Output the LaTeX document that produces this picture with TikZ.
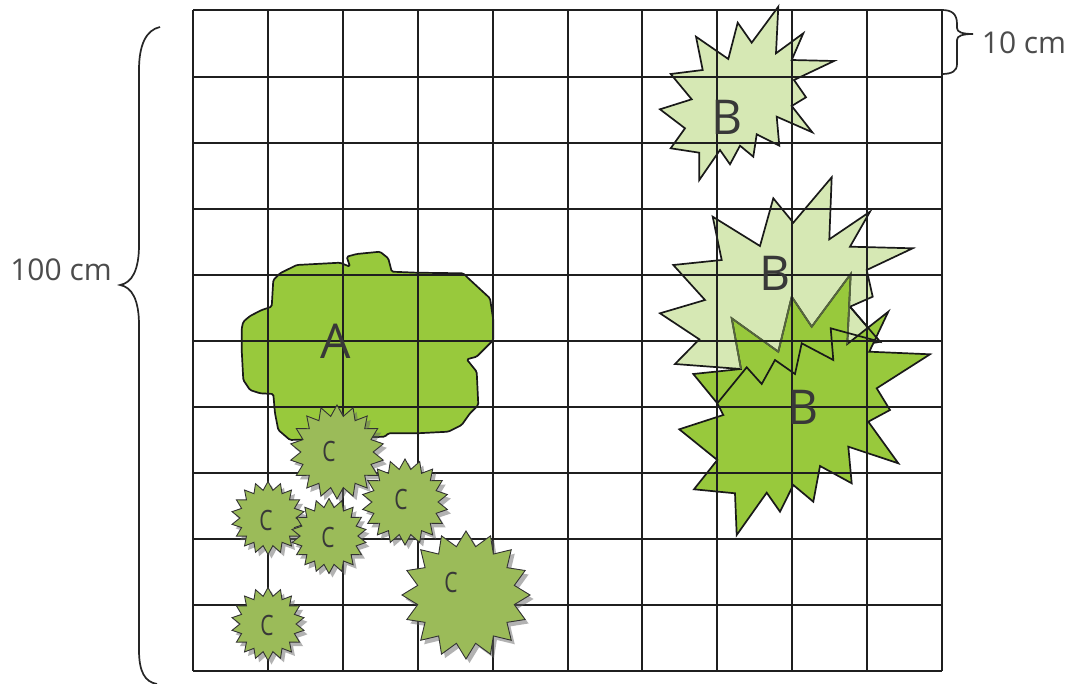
\documentclass[tikz,border=0pt]{standalone}
\usepackage{fontspec}
\setmainfont{Open Sans}
\usetikzlibrary{shapes.geometric,shadows}
\definecolor{agreen}{HTML}{98C93C}
\definecolor{lgreen}{HTML}{D6E8B4}
\definecolor{cgreen}{HTML}{9BBB59}
\definecolor{txtgray}{HTML}{383838}
\definecolor{spikegray}{HTML}{56663E}
\tikzset{
  gridline/.style={line width=2pt, draw=black!88},
  plantA/.style={fill=agreen, draw=black!90, line width=1.7pt, line join=round, rounded corners=1.5pt},
  plantB/.style={draw=black!90, line width=1.7pt, line join=miter},
  cstar/.style={star, star point ratio=1.3, inner sep=0pt, fill=cgreen, draw=black!80, line width=0.9pt,
    drop shadow={shadow xshift=3.5pt, shadow yshift=-4pt, opacity=0.5, fill=black!60}},
  bigletter/.style={text=txtgray, font=\fontsize{48}{56}\selectfont, inner sep=0pt},
  cletter/.style={text=txtgray, font=\fontsize{28}{32}\selectfont, inner sep=0pt, xscale=0.75},
  measure/.style={text=txtgray!90, font=\fontsize{30}{36}\selectfont, inner sep=0pt},
  bracepath/.style={line width=1.7pt, draw=black!85}
}
\begin{document}
\begin{tikzpicture}[x=1pt,y=-1pt]
\useasboundingbox (0,0) rectangle (1072,684);
\fill[white] (0,0) rectangle (1072,684);

% plant A
\draw[plantA] (241.7,328.3) -- (243.3,321.7) -- (250,316) -- (261.7,310) -- (271.7,306.7) -- (273.3,280) -- (280,273.3) -- (296.7,265) -- (340,262.7) -- (350,266.7) -- (346.7,256.7) -- (356.7,254) -- (380,251.7) -- (388.3,258.3) -- (391.7,271.7) -- (416.7,272.7) -- (463.3,273.3) -- (468.3,278.3) -- (490,298.3) -- (493.3,320) -- (493.3,340) -- (483.3,350) -- (476.7,356.7) -- (466.7,359.3) -- (476.7,371.7) -- (478.3,405) -- (470,413.3) -- (461.7,425) -- (448.3,431.7) -- (416.7,433.3) -- (388.3,433.3) -- (385,436.7) -- (290,440) -- (278.3,430) -- (275,413.3) -- (273.3,394) -- (260,393.3) -- (250,390) -- (243.3,380) -- (241.7,350) -- cycle;

% top plant B
\draw[plantB, fill=lgreen] (778.3,6.7) -- (776,53.3) -- (803.3,33.3) -- (791.7,60) -- (834,61) -- (794,80) -- (806,97.3) -- (791.7,106) -- (812.3,132.3) -- (776.7,116.7) -- (779.3,145.7) -- (756.7,134.3) -- (753.3,156.7) -- (740,145.7) -- (730,164.3) -- (720,150) -- (699.3,180) -- (699.3,152.7) -- (670.7,148.3) -- (685,128.3) -- (660,109.3) -- (691.7,99.3) -- (670.7,74) -- (702.7,70) -- (696,36.7) -- (728.3,59) -- (737.7,22.7) -- (751.7,42.7) -- cycle;

% middle plant B (light)
\draw[plantB, fill=lgreen] (773.3,198.3) -- (793.3,222.7) -- (831.7,177.3) -- (829.3,239.3) -- (870,211.7) -- (850,246.7) -- (912.7,248.3) -- (866.7,270) -- (872.7,296.7) -- (850,306.7) -- (880,341.7) -- (741,369) -- (675,364) -- (699.3,339.3) -- (660,313.3) -- (705,300) -- (673.3,265) -- (721.7,260) -- (712.7,216.7) -- (760,246) -- cycle;

% lower plant B (dark)
\draw[plantB, fill=agreen] (693.3,374) -- (741,369) -- (731.7,318.3) -- (778.3,351.7) -- (791.7,296.7) -- (811.7,326.7) -- (850.7,274) -- (847.3,344) -- (888.3,311.7) -- (869.3,351.7) -- (930,354.3) -- (876.7,388.3) -- (890,410) -- (868.3,421.7) -- (898.3,463.3) -- (848.3,446.7) -- (851.7,483.3) -- (820,466) -- (813.3,501.7) -- (793.3,485) -- (780,511.7) -- (766.7,492.7) -- (736.7,535) -- (735,493.3) -- (694,489.3) -- (717.3,460) -- (679.3,429.3) -- (723.3,415) -- (717.3,403.3) -- cycle;
\draw[line width=1.7pt, draw=spikegray, line join=miter] (741,369) -- (731.7,318.3) -- (778.3,351.7) -- (791.7,296.7) -- (811.7,326.7) -- (850.7,274) -- (847.3,344);
\draw[plantB] (717.3,403.3) -- (746.7,367.3) -- (761.7,384) -- (775,360) -- (795,374) -- (801.7,343.3) -- (833.3,360) -- (830.7,328.3) -- (880,341.7) -- (850,306.7);

% grid
\foreach \i in {0,...,10} {
  \draw[gridline] (193+74.9*\i,10.5) -- (193+74.9*\i,671);
  \draw[gridline] (193,10.5+66.05*\i) -- (942,10.5+66.05*\i);
}

% plants C
\node[cstar, star points=18, minimum size=94pt] (c1) at (337,452) {};
\node[cstar, star points=18, minimum size=86pt] (c4) at (405,502) {};
\node[cstar, star points=18, minimum size=73pt] (c2) at (268,518) {};
\node[cstar, star points=18, minimum size=75pt] (c3) at (329,536) {};
\node[cstar, star points=16, minimum size=128pt] (c5) at (466,595) {};
\node[cstar, star points=18, minimum size=73pt] (c6) at (268,624) {};

% labels
\node[bigletter] (la) at (336,341) {A};
\node[bigletter] (lb1) at (727,117) {B};
\node[bigletter] (lb2) at (775,273) {B};
\node[bigletter] (lb3) at (803,407) {B};
\node[cletter] (lc1) at (329,451) {C};
\node[cletter] (lc2) at (266,520) {C};
\node[cletter] (lc3) at (328,537) {C};
\node[cletter] (lc4) at (401,500) {C};
\node[cletter] (lc5) at (451,582) {C};
\node[cletter] (lc6) at (267,625) {C};

% braces
\draw[bracepath] (160,27) .. controls (146,30) and (139,45) .. (139,70) -- (139,245) .. controls (139,270) and (132,283) .. (120,285) .. controls (132,287) and (139,300) .. (139,325) -- (139,650) .. controls (139,672) and (145,682) .. (157,684);
\draw[bracepath] (942,10) .. controls (952,10) and (957,14) .. (957,24) -- (957,28) .. controls (957,32) and (962,34) .. (973,34) .. controls (962,34) and (957,36) .. (957,40) -- (957,64) .. controls (957,71) and (952,74) .. (942,74);
\node[measure] (m100) at (61,270) {100 cm};
\node[measure] (m10) at (1024,43) {10 cm};
\end{tikzpicture}
\end{document}
